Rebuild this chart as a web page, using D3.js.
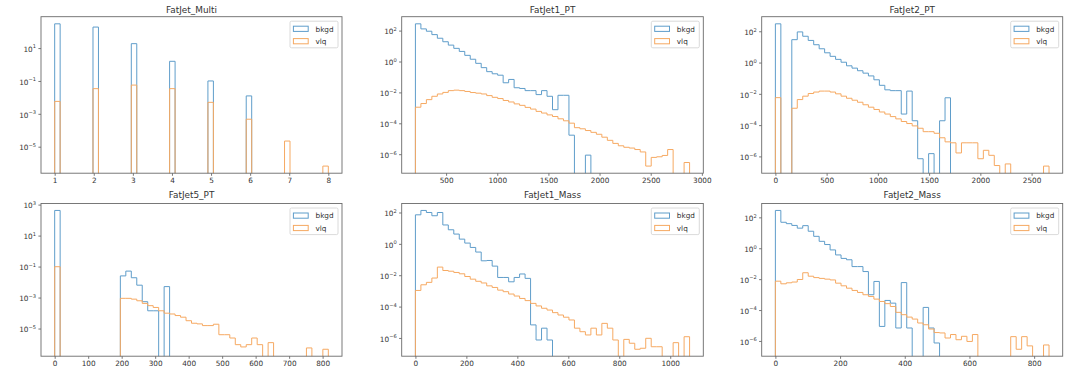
<!DOCTYPE html>
<html>
<head>
<meta charset="utf-8">
<script src="https://cdn.jsdelivr.net/npm/d3@7"></script>
<style>
  body { margin: 0; background: #fff; }
  svg { display: block; }
  text { font-family: "DejaVu Sans", sans-serif; fill: #333; }
</style>
</head>
<body>
<div id="canvas"></div>
<script>
// ---- data (50 bins per histogram) ----
const titles = ["FatJet_Multi", "FatJet1_PT", "FatJet2_PT", "FatJet5_PT", "FatJet1_Mass", "FatJet2_Mass"];
const seriesNames = ["bkgd", "vlq"];

// bin ranges [lo, hi] of each histogram
const binRanges = [[1, 8], [200, 2880], [0, 2670], [0, 817], [0, 1076], [0, 846]];
const nBins = 50;

// FatJet_Multi: one value per integer multiplicity
const multiCats = [1, 2, 3, 4, 5, 6, 7, 8];
const multiBkgd = [300, 190, 18.6, 1.57, 0.10, 0.0123, 0, 0];
const multiVlq = [5.7e-3, 3.4e-2, 5.6e-2, 3.4e-2, 5.0e-3, 4.7e-4, 2.2e-5, 6.6e-7];

const pt1Bkgd = [275, 129, 91, 55, 32, 19, 11.5, 7.1, 4.5, 2.5,
  1.4, 0.76, 0.40, 0.22, 0.16, 0.13, 0.042, 0.069, 0.020, 0.018,
  0.013, 0.013, 7.2e-3, 0.013, 5.6e-3, 7.6e-4, 6.5e-3, 6.5e-3, 1.7e-5, 0,
  0, 8.7e-7, 0, 0, 0, 0, 0, 0, 0, 0,
  0, 0, 0, 0, 0, 0, 0, 0, 0, 0];
const pt1Vlq = [1.1e-3, 1.9e-3, 3.4e-3, 5.6e-3, 7.9e-3, 1.0e-2, 1.3e-2, 1.4e-2, 1.3e-2, 1.15e-2,
  9.8e-3, 8.9e-3, 7.9e-3, 6.2e-3, 4.8e-3, 4.0e-3, 3.0e-3, 2.4e-3, 1.8e-3, 1.45e-3,
  1.07e-3, 8.3e-4, 5.9e-4, 4.6e-4, 3.5e-4, 2.75e-4, 1.95e-4, 1.45e-4, 1.02e-4, 5.2e-5,
  4.4e-5, 3.4e-5, 2.6e-5, 1.95e-5, 1.26e-5, 7.9e-6, 5.0e-6, 3.5e-6, 2.8e-6, 2.5e-6,
  2.0e-6, 1.4e-6, 1.7e-7, 6.2e-7, 6.8e-7, 8.3e-7, 2.0e-6, 0, 0, 2.9e-7];

const pt2Bkgd = [300, 0, 0, 29, 91, 48, 26, 13.8, 7.6, 4.2,
  2.5, 1.6, 1.05, 0.62, 0.44, 0.30, 0.21, 0.14, 0.079, 0.035,
  0.018, 0.016, 0.016, 5.1e-4, 0.015, 1.9e-4, 7.1e-7, 0, 1.5e-6, 0,
  1.9e-4, 5.6e-3, 0, 0, 0, 0, 0, 0, 0, 0,
  0, 0, 0, 0, 0, 0, 0, 0, 0, 0];
const pt2Vlq = [5.7e-3, 0, 0, 1.2e-3, 4.3e-3, 7.1e-3, 1.05e-2, 1.3e-2, 1.5e-2, 1.5e-2,
  1.3e-2, 1.0e-2, 7.1e-3, 5.2e-3, 3.9e-3, 2.9e-3, 2.0e-3, 1.4e-3, 1.0e-3, 6.9e-4,
  5.1e-4, 3.5e-4, 2.5e-4, 1.7e-4, 1.26e-4, 8.9e-5, 6.3e-5, 3.8e-5, 3.8e-5, 3.0e-5,
  1.55e-5, 8.5e-6, 7.4e-6, 1.66e-6, 7.4e-6, 7.4e-6, 7.4e-6, 7.1e-7, 2.45e-6, 1.17e-6,
  2.6e-7, 0, 3.3e-7, 0, 0, 0, 0, 0, 0, 2.4e-7];

const pt5Bkgd = [420, 0, 0, 0, 0, 0, 0, 0, 0, 0,
  0, 0, 0.025, 0.051, 0.019, 6.3e-3, 5.4e-4, 1.4e-4, 1.4e-4, 0,
  5.1e-3, 0, 0, 0, 0, 0, 0, 0, 0, 0,
  0, 0, 0, 0, 0, 0, 0, 0, 0, 0,
  0, 0, 0, 0, 0, 0, 0, 0, 0, 0];
const pt5Vlq = [0.098, 0, 0, 0, 0, 0, 0, 0, 0, 0,
  0, 0, 8.9e-4, 8.9e-4, 7.9e-4, 6.2e-4, 4.2e-4, 3.0e-4, 2.3e-4, 1.4e-4,
  9.8e-5, 8.7e-5, 6.9e-5, 5.4e-5, 3.2e-5, 2.2e-5, 2.0e-5, 1.55e-5, 1.55e-5, 1.9e-5,
  4.0e-6, 4.0e-6, 2.45e-6, 9.1e-7, 6.5e-7, 9.1e-7, 2.45e-6, 9.1e-7, 0, 1.23e-6,
  0, 0, 0, 0, 0, 0, 5.6e-7, 0, 0, 4.6e-7];

const mass1Bkgd = [71, 135, 100, 62, 100, 16, 7.9, 4.2, 2.0, 1.12,
  0.59, 0.30, 0.083, 0.087, 0.038, 7.2e-3, 7.2e-3, 3.8e-3, 7.2e-3, 0.012,
  6.3e-3, 6.8e-6, 7.4e-7, 4.2e-6, 7.4e-7, 0, 0, 0, 0, 0,
  0, 0, 0, 0, 0, 0, 0, 0, 0, 0,
  0, 0, 0, 0, 0, 0, 0, 0, 0, 0];
const mass1Vlq = [1.07e-3, 2.45e-3, 3.5e-3, 6.6e-3, 3.3e-2, 2.0e-2, 1.8e-2, 1.5e-2, 1.23e-2, 8.3e-3,
  5.6e-3, 4.1e-3, 3.2e-3, 2.1e-3, 1.66e-3, 1.12e-3, 8.9e-4, 6.3e-4, 4.7e-4, 3.3e-4,
  2.4e-4, 1.6e-4, 1.1e-4, 7.8e-5, 6.0e-5, 4.1e-5, 2.9e-5, 2.1e-5, 1.4e-5, 4.2e-6,
  2.5e-6, 1.55e-6, 4.2e-6, 1.55e-6, 8.5e-6, 4.2e-6, 7.4e-7, 0, 8.1e-7, 4.6e-7,
  1.9e-7, 2.2e-7, 9.5e-7, 2.75e-7, 2.75e-7, 0, 0, 5.0e-7, 0, 1.2e-6];

const mass2Bkgd = [280, 48, 39, 30, 20, 29, 12.6, 5.9, 2.8, 1.74,
  0.78, 0.37, 0.22, 0.18, 0.065, 0.065, 0.031, 9.8e-4, 7.1e-3, 8.7e-6,
  4.2e-4, 2.8e-4, 6.9e-6, 6.0e-3, 6.9e-6, 0, 0, 1.48e-4, 6.9e-6, 7.4e-7,
  0, 0, 0, 0, 0, 0, 0, 0, 0, 0,
  0, 0, 0, 0, 0, 0, 0, 0, 0, 0];
const mass2Vlq = [7.4e-3, 5.0e-3, 5.8e-3, 6.5e-3, 9.5e-3, 2.6e-2, 1.55e-2, 1.26e-2, 1.12e-2, 1.0e-2,
  8.9e-3, 5.5e-3, 3.7e-3, 2.6e-3, 1.86e-3, 1.38e-3, 9.8e-4, 7.6e-4, 5.1e-4, 3.6e-4,
  2.6e-4, 1.7e-4, 7.1e-5, 5.0e-5, 3.5e-5, 2.6e-5, 1.45e-5, 1.12e-5, 5.9e-6, 3.5e-6,
  3.3e-6, 1.55e-6, 2.6e-6, 1.2e-6, 2.0e-6, 9.3e-7, 2.6e-6, 0, 0, 0,
  0, 0, 0, 1.9e-6, 2.9e-7, 1.9e-6, 4.8e-7, 0, 0, 5.5e-7];

// tick labels
const xTicks = [
  multiCats,
  [500, 1000, 1500, 2000, 2500, 3000],
  [0, 500, 1000, 1500, 2000, 2500],
  [0, 100, 200, 300, 400, 500, 600, 700, 800],
  [0, 200, 400, 600, 800, 1000],
  [0, 200, 400, 600, 800]
];
const yTickExps = [
  [1, -1, -3, -5],
  [2, 0, -2, -4, -6],
  [2, 0, -2, -4, -6],
  [3, 1, -1, -3, -5],
  [2, 0, -2, -4, -6],
  [2, 0, -2, -4, -6]
];

// ---- layout ----
const width = 1069;
const height = 373;
const colX = [[41, 342], [401.7, 703.3], [761.7, 1062.7]];
const rowY = [[16.7, 173.2], [203.5, 356.2]];
const titleBase = [13.3, 198];
const colors = ["#5f9dca", "#f6a962"];
const fs = 7.3;

function catBins(cats, vals, lo, hi, n) {
  const w = (hi - lo) / n;
  const out = new Array(n).fill(0);
  cats.forEach((c, i) => {
    const k = Math.min(n - 1, Math.floor((c - lo) / w + 1e-9));
    out[k] = vals[i];
  });
  return out;
}

const series = [
  [catBins(multiCats, multiBkgd, 1, 8, nBins), catBins(multiCats, multiVlq, 1, 8, nBins)],
  [pt1Bkgd, pt1Vlq],
  [pt2Bkgd, pt2Vlq],
  [pt5Bkgd, pt5Vlq],
  [mass1Bkgd, mass1Vlq],
  [mass2Bkgd, mass2Vlq]
];

const svg = d3.select("#canvas").append("svg")
  .attr("width", width)
  .attr("height", height);
svg.append("rect").attr("width", width).attr("height", height).attr("fill", "#fff");

titles.forEach((title, p) => {
  const [x0, x1] = colX[p % 3];
  const [y0, y1] = rowY[Math.floor(p / 3)];
  const [lo, hi] = binRanges[p];
  const edges = d3.range(nBins + 1).map(k => lo + (hi - lo) * k / nBins);

  const x = d3.scaleLinear()
    .domain([lo - 0.05 * (hi - lo), hi + 0.05 * (hi - lo)])
    .range([x0, x1]);

  // log y limits with 5% margin in log space, like matplotlib
  const all = series[p].flat().filter(v => v > 0);
  const lmin = Math.log10(d3.min(all));
  const lmax = Math.log10(d3.max(all));
  const pad = 0.05 * (lmax - lmin);
  const y = d3.scaleLog()
    .domain([Math.pow(10, lmin - pad), Math.pow(10, lmax + pad)])
    .range([y1, y0]);

  const g = svg.append("g");
  const clipId = "clip" + p;
  g.append("clipPath").attr("id", clipId)
    .append("rect")
    .attr("x", x0).attr("y", y0)
    .attr("width", x1 - x0).attr("height", y1 - y0);

  // step histograms
  const line = d3.line();
  series[p].forEach((vals, s) => {
    const yv = v => (v > 0 ? y(v) : y1 + 20);
    const pts = [[x(edges[0]), y1 + 20]];
    vals.forEach((v, k) => {
      pts.push([x(edges[k]), yv(v)]);
      pts.push([x(edges[k + 1]), yv(v)]);
    });
    pts.push([x(edges[nBins]), y1 + 20]);
    g.append("path")
      .attr("clip-path", `url(#${clipId})`)
      .attr("d", line(pts))
      .attr("fill", "none")
      .attr("stroke", colors[s])
      .attr("stroke-width", 1);
  });

  // axes
  const xAxis = g.append("g")
    .attr("transform", `translate(0,${y1})`)
    .call(d3.axisBottom(x)
      .tickValues(xTicks[p])
      .tickFormat(d3.format("d"))
      .tickSize(2.6)
      .tickPadding(2.4)
      .tickSizeOuter(0));
  xAxis.select(".domain").remove();
  xAxis.selectAll("line").attr("stroke", "#555").attr("stroke-width", 0.8);
  xAxis.selectAll("text")
    .attr("font-family", "DejaVu Sans")
    .attr("font-size", fs)
    .attr("fill", "#333");

  const yAxis = g.append("g")
    .attr("transform", `translate(${x0},0)`)
    .call(d3.axisLeft(y)
      .tickValues(yTickExps[p].map(e => Math.pow(10, e)))
      .tickFormat(() => "")
      .tickSize(2.6)
      .tickSizeOuter(0));
  yAxis.select(".domain").remove();
  yAxis.selectAll("line").attr("stroke", "#555").attr("stroke-width", 0.8);
  yAxis.selectAll(".tick text").remove();
  yAxis.selectAll(".tick").each(function (d) {
    const e = Math.round(Math.log10(d));
    const t = d3.select(this).append("text")
      .attr("x", -5)
      .attr("y", 3.2)
      .attr("text-anchor", "end")
      .attr("font-size", fs)
      .attr("fill", "#333");
    t.append("tspan").text("10");
    t.append("tspan")
      .attr("dy", -3.4)
      .attr("font-size", fs * 0.7)
      .text(e < 0 ? "\u2212" + (-e) : String(e));
  });

  // frame
  g.append("rect")
    .attr("x", x0).attr("y", y0)
    .attr("width", x1 - x0).attr("height", y1 - y0)
    .attr("fill", "none")
    .attr("stroke", "#6a6a6a")
    .attr("stroke-width", 0.9);

  // title
  g.append("text")
    .attr("x", (x0 + x1) / 2)
    .attr("y", titleBase[Math.floor(p / 3)])
    .attr("text-anchor", "middle")
    .attr("font-size", 8.9)
    .text(title);

  // legend
  const lw = 48, lh = 26.6;
  const lg = g.append("g").attr("transform", `translate(${x1 - 4 - lw},${y0 + 4.5})`);
  lg.append("rect")
    .attr("width", lw).attr("height", lh)
    .attr("rx", 1.5)
    .attr("fill", "#fff").attr("fill-opacity", 0.8)
    .attr("stroke", "#d0d0d0").attr("stroke-width", 0.8);
  seriesNames.forEach((name, s) => {
    lg.append("rect")
      .attr("x", 3.4).attr("y", 5 + s * 12.4)
      .attr("width", 14.8).attr("height", 5.2)
      .attr("fill", "none")
      .attr("stroke", colors[s])
      .attr("stroke-width", 1);
    lg.append("text")
      .attr("x", 25.5).attr("y", 10.4 + s * 12.4)
      .attr("font-size", fs)
      .text(name);
  });
});
</script>
</body>
</html>
